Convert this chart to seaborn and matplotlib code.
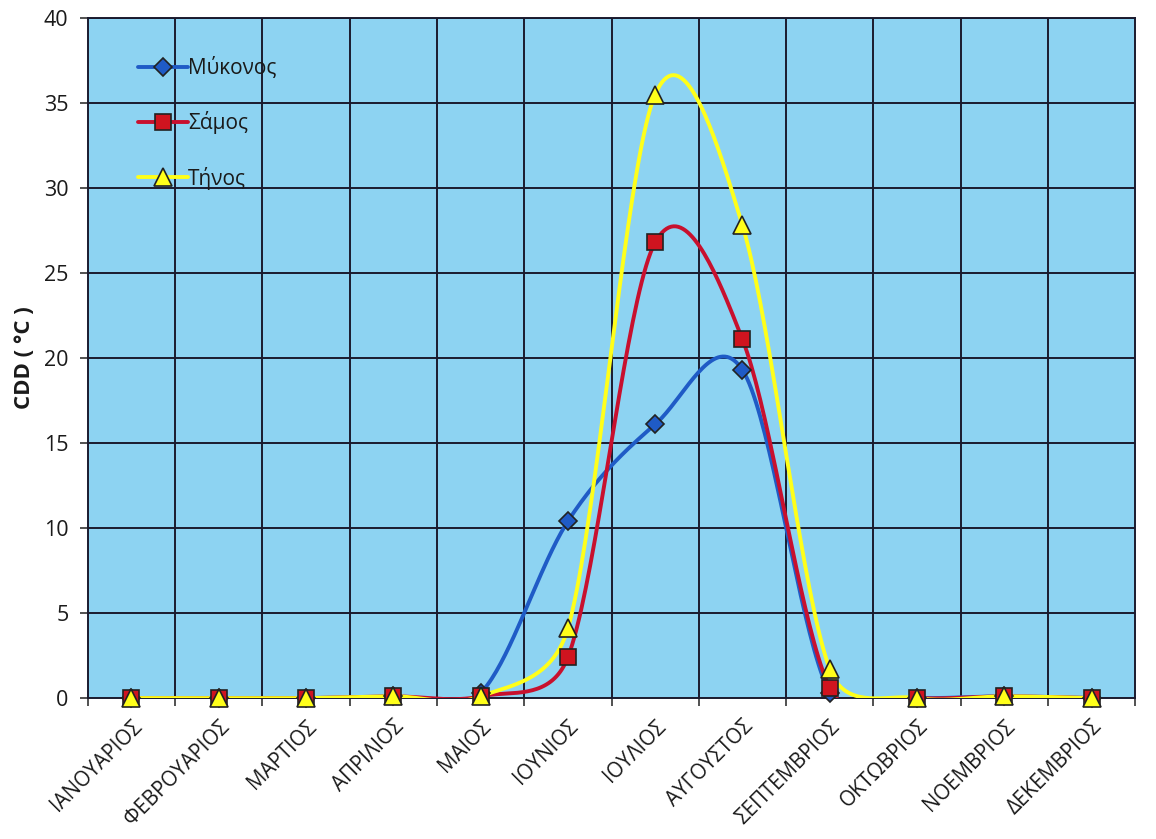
import numpy as np
import matplotlib
matplotlib.use("Agg")
import matplotlib.pyplot as plt
import seaborn as sns
from matplotlib.lines import Line2D

months = ["ΙΑΝΟΥΑΡΙΟΣ", "ΦΕΒΡΟΥΑΡΙΟΣ", "ΜΑΡΤΙΟΣ", "ΑΠΡΙΛΙΟΣ", "ΜΑΙΟΣ", "ΙΟΥΝΙΟΣ",
          "ΙΟΥΛΙΟΣ", "ΑΥΓΟΥΣΤΟΣ", "ΣΕΠΤΕΜΒΡΙΟΣ", "ΟΚΤΩΒΡΙΟΣ", "ΝΟΕΜΒΡΙΟΣ", "ΔΕΚΕΜΒΡΙΟΣ"]
mykonos = [0.0, 0.0, 0.0, 0.1, 0.3, 10.4, 16.1, 19.3, 0.3, 0.0, 0.1, 0.0]
samos = [0.0, 0.0, 0.0, 0.1, 0.1, 2.4, 26.8, 21.1, 0.6, 0.0, 0.1, 0.0]
tinos = [0.0, 0.0, 0.0, 0.1, 0.1, 4.1, 35.5, 27.8, 1.7, 0.0, 0.1, 0.0]
series_names = ["Μύκονος", "Σάμος", "Τήνος"]
yticks = [0, 5, 10, 15, 20, 25, 30, 35, 40]

sns.set_theme(style="white")
plt.rcParams["font.family"] = ["Open Sans", "DejaVu Sans"]

colors = ["#1F5BC6", "#C8102E", "#FFFF1A"]
face = ["#1F5BC6", "#D0141F", "#FFFF1A"]
markers = ["D", "s", "^"]
msize = [9, 12, 13]
ink = "#1a1a1a"
grid_col = "#1A1A2E"


def smooth_display(ax, x, y, n=40):
    """Spreadsheet-style smoothed line: cubic Bezier segments whose control
    handles are 1/6 of the neighbour chord, capped at half the segment,
    computed in screen space and mapped back to data coordinates."""
    pts = ax.transData.transform(np.column_stack([x, y]))
    P = np.vstack([pts[0], pts, pts[-1]])
    t = np.linspace(0, 1, n)[:, None]
    out = []
    for i in range(len(pts) - 1):
        p0, p1, p2, p3 = P[i], P[i + 1], P[i + 2], P[i + 3]
        d12 = np.linalg.norm(p2 - p1)
        d02 = np.linalg.norm(p2 - p0)
        d13 = np.linalg.norm(p3 - p1)
        f0 = 1 / 6 if d02 / 6 < d12 / 2 or d02 == 0 else d12 / (2 * d02)
        f1 = 1 / 6 if d13 / 6 < d12 / 2 or d13 == 0 else d12 / (2 * d13)
        c1 = p1 + (p2 - p0) * f0
        c2 = p2 - (p3 - p1) * f1
        b = (1 - t) ** 3 * p1 + 3 * (1 - t) ** 2 * t * c1 + 3 * (1 - t) * t ** 2 * c2 + t ** 3 * p2
        out.append(b)
    seg = ax.transData.inverted().transform(np.vstack(out))
    return seg[:, 0], seg[:, 1]


fig = plt.figure(figsize=(11.56, 8.39), dpi=100)
ax = fig.add_axes([0.076, 0.168, 0.906, 0.8105])
ax.set_facecolor("#8DD3F2")

xpos = np.arange(len(months))
all_series = [mykonos, samos, tinos]

ax.set_xlim(-0.5, len(months) - 0.5)
ax.set_ylim(0, 40)

# smoothed lines
for vals, c in zip(all_series, colors):
    sx, sy = smooth_display(ax, xpos, vals)
    sns.lineplot(x=sx, y=sy, ax=ax, color=c, linewidth=2.8, sort=False,
                 estimator=None, zorder=3)

# markers on top
for vals, fc, m, ms in zip(all_series, face, markers, msize):
    ax.plot(xpos, vals, linestyle="none", marker=m, markersize=ms,
            markerfacecolor=fc, markeredgecolor="#222222", markeredgewidth=1.2,
            zorder=4, clip_on=False)

ax.set_xlim(-0.5, len(months) - 0.5)
ax.set_ylim(0, 40)
ax.set_yticks(yticks)
ax.set_yticklabels([str(v) for v in yticks], fontsize=15.5)
ax.set_xticks(xpos)
ax.set_xticklabels(months, rotation=45, ha="right", va="top",
                   rotation_mode="anchor", fontsize=14.8)
ax.set_xticks(np.arange(-0.5, len(months), 1), minor=True)

ax.grid(False)
for xv in np.arange(0.5, len(months) - 0.5, 1):
    ax.axvline(xv, color=grid_col, linewidth=1.4, zorder=1)
for yv in yticks[1:]:
    ax.axhline(yv, color=grid_col, linewidth=1.4, zorder=1)

for side in ["top", "right", "left", "bottom"]:
    ax.spines[side].set_color(grid_col)
    ax.spines[side].set_linewidth(1.4)

ax.tick_params(axis="y", which="major", length=6, width=1.2, color="#333333",
               direction="out", left=True, pad=8, labelcolor=ink)
ax.tick_params(axis="x", which="major", length=0, pad=13, labelcolor=ink)
ax.tick_params(axis="x", which="minor", length=6, width=1.2, color="#333333",
               direction="out", bottom=True)

ax.set_ylabel("CDD ( °C )", fontsize=16, fontweight="bold", color=ink)
ax.yaxis.set_label_coords(-0.05, 0.5)

handles = [Line2D([0], [0], color=c, linewidth=2.8, marker=m, markersize=ms,
                  markerfacecolor=fc, markeredgecolor="#222222", markeredgewidth=1.2)
           for c, fc, m, ms in zip(colors, face, markers, msize)]
leg = ax.legend(handles, series_names, loc="upper left", bbox_to_anchor=(0.03, 0.97),
                frameon=False, fontsize=15, handlelength=2.4, handletextpad=0.0,
                labelspacing=1.55)
for txt in leg.get_texts():
    txt.set_color(ink)

fig.savefig("out.png", dpi=100, facecolor="white")
